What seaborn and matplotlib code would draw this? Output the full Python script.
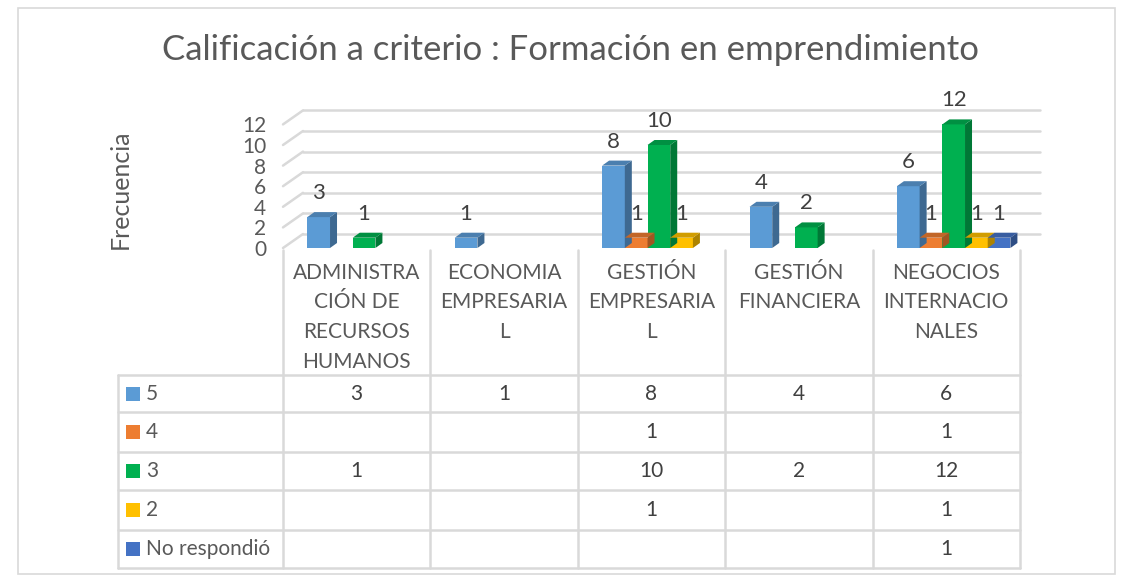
import numpy as np
import pandas as pd
import matplotlib.pyplot as plt
import matplotlib.colors as mcolors
from matplotlib.patches import Polygon, Rectangle
import seaborn as sns

# Datos
categorias = ["ADMINISTRACIÓN DE RECURSOS HUMANOS", "ECONOMIA EMPRESARIAL",
              "GESTIÓN EMPRESARIAL", "GESTIÓN FINANCIERA", "NEGOCIOS INTERNACIONALES"]
etiquetas_cat = ["ADMINISTRA\nCIÓN DE\nRECURSOS\nHUMANOS", "ECONOMIA\nEMPRESARIA\nL",
                 "GESTIÓN\nEMPRESARIA\nL", "GESTIÓN\nFINANCIERA", "NEGOCIOS\nINTERNACIO\nNALES"]
series = ["5", "4", "3", "2", "No respondió"]
val_5 = [3, 1, 8, 4, 6]
val_4 = [np.nan, np.nan, 1, np.nan, 1]
val_3 = [1, np.nan, 10, 2, 12]
val_2 = [np.nan, np.nan, 1, np.nan, 1]
val_nr = [np.nan, np.nan, np.nan, np.nan, 1]
colores = ["#5B9BD5", "#ED7D31", "#00B050", "#FFC000", "#4472C4"]

valores = [val_5, val_4, val_3, val_2, val_nr]
df = pd.DataFrame({
    "Carrera": categorias * len(series),
    "Serie": [s for s in series for _ in categorias],
    "Frecuencia": [v for fila in valores for v in fila],
})

W, H = 1132, 576
TXT = "#595959"
VAL = "#404040"
GRID = "#D9D9D9"
FS = 15

sns.set_theme(style="white")
plt.rcParams["font.family"] = ["Lato", "DejaVu Sans"]

fig = plt.figure(figsize=(W / 100, H / 100), dpi=100)

# Capa de fondo en coordenadas de píxel (título, tabla, borde)
bg = fig.add_axes([0, 0, 1, 1], zorder=0)
bg.set_xlim(0, W)
bg.set_ylim(H, 0)
bg.axis("off")

bg.add_patch(Rectangle((18, 8), 1097, 566, fill=False, ec=GRID, lw=1.2))
bg.text(570, 50, "Calificación a criterio : Formación en emprendimiento",
        ha="center", va="center", fontsize=25, color=TXT)
bg.text(120, 189, "Frecuencia", rotation=90, ha="center", va="center",
        fontsize=18, color=TXT)

# Tabla de datos
col_x = np.linspace(283, 1020, len(categorias) + 1)
row_y = [375, 412, 452, 490, 530, 568]
for x in col_x:
    bg.plot([x, x], [250, 568], color=GRID, lw=1.8)
bg.plot([118, 118], [375, 568], color=GRID, lw=1.8)
for y in row_y:
    bg.plot([118, 1020], [y, y], color=GRID, lw=1.8)

for i, lab in enumerate(etiquetas_cat):
    cx = (col_x[i] + col_x[i + 1]) / 2
    for j, linea in enumerate(lab.split("\n")):
        bg.text(cx, 273 + j * 29.5, linea, ha="center", va="center",
                fontsize=FS, color=TXT)

for r, (nombre, fila, c) in enumerate(zip(series, valores, colores)):
    cy = (row_y[r] + row_y[r + 1]) / 2
    bg.add_patch(Rectangle((126, cy - 7), 14, 14, color=c, lw=0))
    bg.text(146, cy, nombre, ha="left", va="center", fontsize=FS, color=TXT)
    for i, v in enumerate(fila):
        if np.isfinite(v):
            cx = (col_x[i] + col_x[i + 1]) / 2
            bg.text(cx, cy, f"{int(v)}", ha="center", va="center",
                    fontsize=FS, color=VAL)

# Gráfico de barras (pseudo 3D)
px_unit = 10.3
y0 = 248
top = 116
ax = fig.add_axes([283 / W, 1 - y0 / H, (1020 - 283) / W, (y0 - top) / H], zorder=2)
ax.patch.set_alpha(0)
sns.barplot(data=df, x="Carrera", y="Frecuencia", hue="Serie", order=categorias,
            hue_order=series, palette=colores, width=0.77, gap=0, legend=False,
            errorbar=None, saturation=1, ax=ax, zorder=3)
ax.set_xlim(-0.55, 4.45)
ax.set_ylim(0, (y0 - top) / px_unit)
ax.set_xticks([])
ax.set_yticks(range(0, 13, 2))
ax.tick_params(axis="y", length=0, pad=12, labelsize=FS, labelcolor=TXT)
ax.set_xlabel("")
ax.set_ylabel("")
for s in ax.spines.values():
    s.set_visible(False)

x_unit = (1020 - 283) / 5  # px por unidad de categoría
dxg, dyg = 20 / x_unit, 14 / px_unit
x_left, x_right = ax.get_xlim()
for v in range(0, 13, 2):
    ax.plot([x_left, x_left + dxg], [v, v + dyg], color=GRID, lw=1.8,
            clip_on=False, zorder=1)
    ax.plot([x_left + dxg, x_right + dxg], [v + dyg, v + dyg], color=GRID,
            lw=1.8, clip_on=False, zorder=1)

dxb, dyb = 7 / x_unit, 5 / px_unit
for p in list(ax.patches):
    h = p.get_height()
    if not np.isfinite(h) or h <= 0:
        continue
    x0 = p.get_x()
    x1 = x0 + p.get_width()
    base = np.array(mcolors.to_rgb(p.get_facecolor()))
    p.set_edgecolor("none")
    side = Polygon([(x1, 0), (x1 + dxb, dyb), (x1 + dxb, h + dyb), (x1, h)],
                   closed=True, fc=base * 0.68, ec="none", clip_on=False, zorder=3)
    tapa = Polygon([(x0, h), (x1, h), (x1 + dxb, h + dyb), (x0 + dxb, h + dyb)],
                   closed=True, fc=base * 0.82, ec="none", clip_on=False, zorder=3)
    ax.add_patch(side)
    ax.add_patch(tapa)
    p.set_clip_on(False)
    ax.text((x0 + x1) / 2, h + 24 / px_unit, f"{int(h)}", ha="center",
            va="center", fontsize=FS + 1, color=VAL, clip_on=False, zorder=4)

fig.savefig("out.png", dpi=100)
